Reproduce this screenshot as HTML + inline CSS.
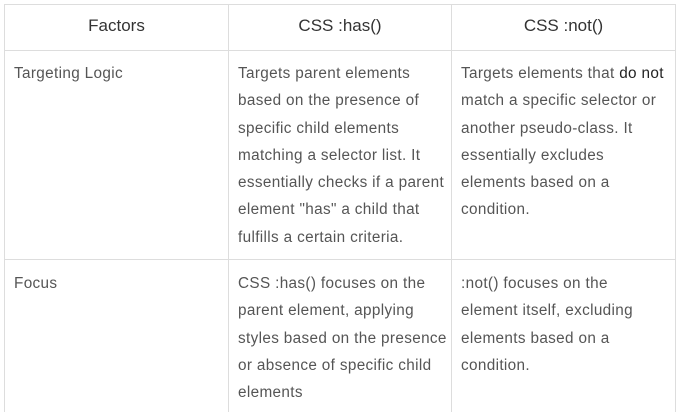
<!DOCTYPE html>
<html><head><meta charset="utf-8"><style>
body{margin:0;width:680px;height:412px;background:#fff;overflow:hidden;position:relative;font-family:"Liberation Sans",sans-serif;}
.h{position:absolute;top:16px;font-size:17px;color:#333;text-align:center;}
.t{position:absolute;font-size:15.3px;color:#555;white-space:nowrap;line-height:27.3px;letter-spacing:0.35px}
.l{position:absolute;background:#ddd}
b{font-weight:normal;color:#222}
</style></head><body>
<div class="l" style="left:4px;top:4px;width:671px;height:1px"></div>
<div class="l" style="left:4px;top:50px;width:671px;height:1px"></div>
<div class="l" style="left:4px;top:259px;width:671px;height:1px"></div>
<div class="l" style="left:4px;top:4px;width:1px;height:408px"></div>
<div class="l" style="left:228px;top:4px;width:1px;height:408px"></div>
<div class="l" style="left:451px;top:4px;width:1px;height:408px"></div>
<div class="l" style="left:675px;top:4px;width:1px;height:408px"></div>
<div class="h" style="left:5px;width:223px">Factors</div>
<div class="h" style="left:229px;width:222px">CSS :has()</div>
<div class="h" style="left:452px;width:223px">CSS :not()</div>
<div class="t" style="left:14px;top:60px">Targeting Logic</div>
<div class="t" style="left:238px;top:60px">Targets parent elements<br>based on the presence of<br>specific child elements<br>matching a selector list. It<br>essentially checks if a parent<br>element "has" a child that<br>fulfills a certain criteria.</div>
<div class="t" style="left:461px;top:60px">Targets elements that <b>do not</b><br>match a specific selector or<br>another pseudo-class. It<br>essentially excludes<br>elements based on a<br>condition.</div>
<div class="t" style="left:14px;top:270px">Focus</div>
<div class="t" style="left:238px;top:270px">CSS :has() focuses on the<br>parent element, applying<br>styles based on the presence<br>or absence of specific child<br>elements</div>
<div class="t" style="left:461px;top:270px">:not() focuses on the<br>element itself, excluding<br>elements based on a<br>condition.</div>
</body></html>
